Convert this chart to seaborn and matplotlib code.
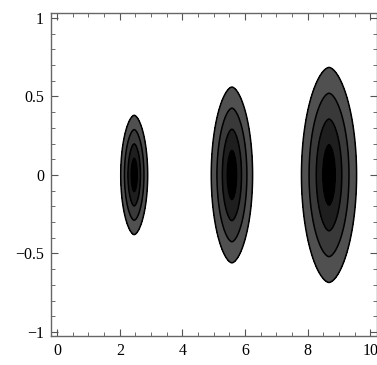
import matplotlib
matplotlib.use("Agg")
import matplotlib.pyplot as plt
import numpy as np
import seaborn as sns
from matplotlib.ticker import MultipleLocator

# blob parameters
centers_x = [2.46, 5.58, 8.68]
half_widths = [0.43, 0.66, 0.88]
half_heights = [0.38, 0.56, 0.685]
levels = [0.0, 0.24, 0.48, 0.72, 1.0]
shades = ["#505050", "#393939", "#1e1e1e", "#000000"]
x_ticks = [0, 2, 4, 6, 8, 10]
y_ticks = [-1, -0.5, 0, 0.5, 1]

sns.set_style("white")
plt.rcParams["font.family"] = ["Liberation Serif", "DejaVu Serif"]

x = np.linspace(-0.2, 10.2, 1400)
y = np.linspace(-1.05, 1.05, 700)
X, Y = np.meshgrid(x, y)
Z = np.full_like(X, -1.0)
for cx, wx, wy in zip(centers_x, half_widths, half_heights):
    u = np.abs((X - cx) / wx)
    v = np.abs(Y / wy)
    f = 1 - np.sqrt(u ** 1.7 + v ** 2)
    Z = np.maximum(Z, f)

fig = plt.figure(figsize=(3.77, 3.65), dpi=100)
ax = fig.add_axes([0.135, 0.0795, 0.864, 0.885])
ax.contourf(X, Y, Z, levels=levels, colors=shades)
ax.contour(X, Y, Z, levels=levels[:-1], colors="black", linewidths=1.1)

ax.set_xlim(-0.2, 10.2)
ax.set_ylim(-1.026, 1.032)
ax.set_xticks(x_ticks)
ax.set_yticks(y_ticks)
ax.set_yticklabels(["\u22121", "\u22120.5", "0", "0.5", "1"])
ax.xaxis.set_minor_locator(MultipleLocator(0.5))
ax.yaxis.set_minor_locator(MultipleLocator(0.1))
ax.tick_params(which="both", direction="in", top=True, right=True,
               bottom=True, left=True, color="#555555", labelsize=11.5,
               labelcolor="black")
ax.tick_params(which="major", length=5, width=0.8, pad=5)
ax.tick_params(which="minor", length=3, width=0.6)
for s in ax.spines.values():
    s.set_color("#666666")
    s.set_linewidth(1.0)

fig.savefig("out.png", dpi=100)
